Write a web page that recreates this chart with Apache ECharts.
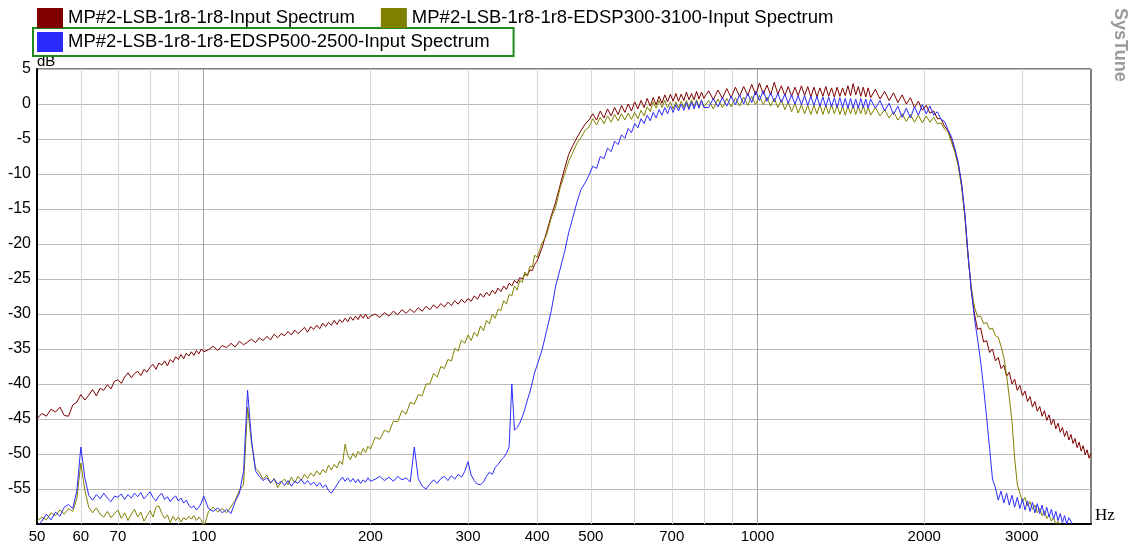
<!DOCTYPE html>
<html>
<head>
<meta charset="utf-8">
<script src="https://cdn.jsdelivr.net/npm/echarts@6/dist/echarts.min.js"></script>
<style>
  html, body { margin: 0; padding: 0; background: #fff; }
  #chart { width: 1133px; height: 546px; }
</style>
</head>
<body>
<div id="chart"></div>
<script>
// series names as shown in the legend
const names = [
  'MP#2-LSB-1r8-1r8-Input Spectrum',
  'MP#2-LSB-1r8-1r8-EDSP300-3100-Input Spectrum',
  'MP#2-LSB-1r8-1r8-EDSP500-2500-Input Spectrum'
];

// frequency points (Hz)
const freqs = [
  50,51,52,53,54,55,56,57,58,59,60,61,62,63,64,65,66,67,68,69,70,71,72,73,74,75,76,77,78,79,
  80,81,82,83,84,85,86,87,88,89,90,91,92,93,94,95,96,97,98,99,100,
  102,104,106,108,110,112,114,116,118,120,122,124,126,128,130,132,134,136,138,140,
  142,144,146,148,150,152,154,156,158,160,162,164,166,168,170,172,174,176,178,180,
  182,184,186,188,190,192,194,196,198,200,
  204,208,212,216,220,224,228,232,236,240,244,248,252,256,260,264,268,272,276,280,
  284,288,292,296,300,304,308,312,316,320,324,328,332,336,340,344,348,352,356,360,
  364,368,372,376,380,384,388,392,396,400,
  408,416,424,432,440,448,456,464,472,480,488,496,504,512,520,528,536,544,552,560,
  568,576,584,592,600,608,616,624,632,640,648,656,664,672,680,688,696,704,712,720,
  728,736,744,752,760,768,776,784,792,800,
  816,832,848,864,880,896,912,928,944,960,976,992,1008,1024,1040,1056,1072,1088,1104,1120,
  1136,1152,1168,1184,1200,1216,1232,1248,1264,1280,1296,1312,1328,1344,1360,1376,1392,1408,1424,1440,
  1456,1472,1488,1504,1520,1536,1552,1568,1584,1600,
  1632,1664,1696,1728,1760,1792,1824,1856,1888,1920,1952,1984,2016,2048,2080,2112,2144,2176,2208,2240,
  2272,2304,2336,2368,2400,2432,2464,2496,2528,2560,2592,2624,2656,2688,2720,2752,2784,2816,2848,2880,
  2912,2944,2976,3008,3040,3072,3104,3136,3168,3200,
  3232,3264,3296,3328,3360,3392,3424,3456,3488,3520,3552,3584,3616,3648,3680,3712,3744,3776,3808,3840,
  3872,3904,3936,3968,4000
];

// dB values, one per frequency point
const red = [
  -45.0,-44.2,-44.6,-43.6,-44.0,-43.3,-44.5,-44.6,-43.0,-42.6,-41.5,-42.3,-41.6,-40.8,-41.7,-40.6,-40.9,-40.1,-40.7,-39.6,
  -39.4,-39.9,-39.0,-38.4,-39.1,-38.5,-38.2,-38.8,-37.9,-38.3,-37.6,-37.2,-37.9,-37.0,-37.3,-36.7,-37.4,-36.5,-36.9,-36.1,
  -36.5,-35.8,-36.4,-35.6,-36.0,-35.4,-35.9,-35.2,-35.7,-35.0,-35.4,
  -35.1,-34.6,-35.2,-34.5,-34.8,-34.2,-34.7,-33.9,-34.4,-34.0,-33.6,-34.1,-33.4,-33.8,-33.2,-33.7,-32.9,-33.4,-32.8,-33.1,
  -32.5,-33.0,-32.3,-32.8,-32.4,-31.9,-32.6,-31.8,-32.2,-31.6,-32.1,-31.3,-31.8,-31.2,-31.6,-30.9,-31.5,-30.8,-31.2,-30.6,
  -31.1,-30.4,-30.9,-30.3,-30.8,-30.1,-30.6,-30.0,-30.7,-30.3,
  -30.0,-30.5,-29.8,-30.3,-29.6,-30.1,-29.4,-29.9,-29.3,-29.8,-29.1,-29.6,-28.9,-29.4,-28.7,-29.2,-28.5,-29.0,-28.3,-28.8,
  -28.1,-28.6,-27.9,-28.4,-27.8,-28.2,-27.4,-27.9,-27.1,-27.6,-26.9,-27.4,-26.6,-27.1,-26.3,-26.8,-26.0,-26.5,-25.6,-26.0,
  -25.2,-25.6,-24.8,-25.0,-24.3,-24.5,-23.7,-23.8,-22.9,-22.4,
  -20.6,-18.3,-16.0,-14.0,-11.6,-9.3,-7.2,-5.9,-4.8,-3.8,-2.9,-2.3,-1.4,-2.3,-1.0,-2.0,-0.7,-1.7,-0.5,-1.5,
  -0.2,-1.2,0.0,-1.0,0.3,-0.7,0.5,-0.5,0.8,-0.3,0.9,-0.1,1.1,0.1,1.3,0.3,1.4,0.4,1.5,0.4,
  1.4,0.5,1.7,0.6,1.5,0.6,1.8,0.7,1.7,0.8,
  1.9,0.6,2.0,0.8,2.2,0.9,2.4,1.1,2.5,1.2,2.8,1.3,3.0,1.4,2.7,1.3,3.1,1.4,2.6,1.2,
  2.5,1.1,2.4,1.2,2.6,1.2,2.5,1.0,2.4,1.0,2.3,1.1,2.5,1.1,2.3,1.0,2.4,1.1,2.3,1.2,
  2.6,1.2,2.9,1.3,2.5,1.1,2.4,1.0,2.3,0.9,
  2.1,0.7,1.8,0.5,1.6,0.2,1.3,0.0,0.9,-0.5,0.4,-0.9,-0.2,-1.3,-1.0,-2.1,-2.1,-3.2,-3.8,-5.2,
  -6.6,-8.6,-11.6,-15.9,-21.8,-26.7,-30.0,-32.2,-32.0,-34.0,-33.8,-35.5,-35.0,-36.7,-36.2,-37.8,-37.3,-38.9,-38.3,-40.0,
  -39.3,-40.9,-40.2,-41.7,-41.0,-42.5,-41.8,-43.3,-42.5,-43.9,
  -43.2,-44.6,-43.8,-45.2,-44.4,-45.8,-45.0,-46.4,-45.6,-46.9,-46.2,-47.5,-46.7,-48.0,-47.2,-48.5,-47.8,-49.1,-48.3,-49.6,
  -48.8,-50.1,-49.4,-50.6,-49.9
];

const olive = [
  -59.6,-59.0,-59.4,-58.4,-58.8,-58.0,-58.6,-57.8,-58.2,-56.4,-51.3,-55.2,-57.6,-58.4,-57.7,-58.6,-59.0,-58.2,-59.1,-58.5,
  -58.0,-59.2,-58.4,-59.5,-58.6,-57.9,-59.0,-58.3,-59.6,-58.8,-58.1,-59.0,-57.6,-57.4,-58.5,-59.2,-58.7,-59.8,-58.9,-59.5,
  -59.0,-59.7,-59.1,-59.4,-58.9,-59.3,-58.8,-59.5,-59.0,-59.4,-60.6,
  -58.2,-57.6,-58.3,-57.8,-58.4,-57.5,-56.6,-55.2,-54.4,-43.3,-48.5,-52.0,-52.6,-53.6,-53.0,-54.2,-53.5,-54.8,-54.0,-53.6,
  -54.4,-53.3,-54.1,-53.2,-53.8,-52.9,-53.5,-52.7,-53.2,-52.4,-53.0,-52.2,-52.7,-51.6,-52.3,-51.5,-52.0,-51.0,-51.5,-48.6,
  -50.2,-50.8,-49.9,-50.5,-49.6,-50.1,-49.2,-49.8,-48.9,-49.3,
  -47.6,-47.9,-46.6,-46.9,-45.3,-45.4,-43.8,-44.3,-42.6,-42.9,-41.5,-41.7,-40.0,-40.0,-38.5,-39.0,-37.5,-37.8,-36.5,-36.7,
  -34.9,-35.3,-33.7,-34.2,-33.0,-33.8,-32.6,-33.2,-31.7,-32.4,-30.9,-31.4,-30.0,-30.6,-29.3,-29.5,-28.1,-28.6,-27.2,-27.4,
  -26.0,-26.6,-25.2,-25.5,-24.0,-24.6,-23.2,-23.3,-21.6,-21.9,
  -19.9,-18.7,-16.3,-14.7,-12.0,-10.1,-8.2,-6.9,-5.6,-4.8,-3.8,-3.3,-2.1,-3.0,-1.9,-2.8,-1.7,-2.6,-1.5,-2.4,
  -1.4,-2.3,-1.3,-2.2,-1.2,-2.1,-0.9,-1.7,-0.4,-1.1,0.3,-0.6,0.5,-0.5,0.5,-0.5,0.3,-0.7,0.3,-0.6,
  0.4,-0.5,0.5,-0.5,0.6,-0.4,0.6,-0.4,0.6,-0.4,
  0.5,-0.7,0.7,-0.5,0.8,-0.4,0.9,-0.3,1.0,-0.2,1.1,-0.1,1.2,-0.1,1.0,-0.3,0.8,-0.5,0.6,-0.8,
  0.3,-1.1,0.1,-1.3,-0.1,-1.4,-0.2,-1.5,-0.2,-1.4,-0.1,-1.5,-0.2,-1.4,-0.1,-1.4,-0.2,-1.5,-0.3,-1.6,
  -0.3,-1.4,-0.2,-1.5,-0.3,-1.4,-0.2,-1.5,-0.4,-1.6,
  -0.5,-1.7,-0.8,-2.0,-1.1,-2.3,-1.4,-2.5,-1.5,-2.6,-1.6,-2.7,-1.7,-2.6,-1.9,-2.8,-2.7,-3.6,-4.0,-5.5,
  -6.9,-8.9,-11.9,-16.2,-22.0,-26.2,-29.0,-30.4,-30.3,-31.4,-31.2,-32.2,-32.0,-33.1,-33.3,-34.6,-36.2,-38.8,-41.9,-45.4,
  -50.6,-54.3,-55.6,-56.8,-56.2,-57.4,-56.8,-57.9,-57.3,-58.4,
  -57.8,-58.8,-58.2,-59.2,-58.7,-59.6,-59.1,-60.0,-59.6,-60.5,null,null,null,null,null,null,null,null,null,null,
  null,null,null,null,null
];

const blue = [
  -60.4,-59.6,-58.6,-59.4,-58.3,-58.9,-57.6,-57.2,-57.8,-55.3,-49.0,-53.4,-55.9,-56.6,-55.8,-56.4,-55.6,-56.3,-56.8,-56.0,
  -56.2,-55.7,-56.5,-55.8,-56.3,-55.6,-56.1,-55.5,-56.4,-55.9,-55.4,-56.2,-56.7,-56.0,-55.6,-56.5,-56.1,-56.8,-56.3,-56.0,
  -56.7,-56.3,-57.0,-56.6,-57.3,-57.7,-57.4,-58.0,-57.6,-57.0,-56.0,
  -57.8,-58.2,-57.7,-58.4,-57.9,-58.5,-56.8,-55.6,-52.5,-40.9,-48.0,-52.4,-53.2,-53.8,-53.4,-54.1,-53.6,-54.3,-53.9,-54.5,
  -53.8,-54.6,-53.9,-54.2,-53.6,-54.3,-53.8,-54.4,-54.0,-54.6,-54.1,-54.8,-54.4,-55.2,-55.6,-55.0,-54.4,-53.8,-53.3,-53.9,
  -53.4,-54.0,-53.5,-54.1,-53.6,-54.2,-53.7,-54.0,-53.4,-53.9,
  -53.6,-53.2,-53.8,-53.3,-53.9,-53.2,-53.7,-53.4,-54.0,-49.0,-53.5,-54.6,-55.0,-54.3,-53.7,-54.2,-53.5,-53.2,-53.8,-53.1,
  -53.6,-52.9,-53.3,-52.5,-51.1,-53.0,-53.8,-54.3,-54.4,-54.0,-53.2,-52.6,-52.9,-51.9,-51.5,-50.9,-50.5,-49.9,-49.0,-40.0,
  -46.6,-46.2,-45.6,-44.7,-43.6,-42.3,-41.2,-39.8,-38.3,-37.3,
  -35.2,-32.4,-29.6,-26.0,-23.6,-21.2,-18.4,-16.2,-14.0,-12.2,-11.3,-10.2,-8.9,-9.2,-7.5,-7.8,-6.3,-6.8,-5.3,-5.8,
  -4.4,-4.9,-3.5,-4.1,-2.8,-3.4,-2.1,-2.8,-1.6,-2.4,-1.2,-2.0,-0.8,-1.6,-0.5,-1.4,-0.3,-1.2,-0.1,-1.0,
  0.0,-0.9,0.2,-0.8,0.3,-0.7,0.4,-0.6,0.5,-0.5,
  -0.5,0.8,-0.4,0.9,-0.3,1.1,-0.1,1.3,0.0,1.5,0.2,1.8,0.5,1.9,0.4,1.6,0.3,1.5,0.2,1.4,
  0.1,1.3,0.0,1.2,-0.1,1.2,-0.2,1.1,-0.2,1.1,-0.3,1.0,-0.4,1.0,-0.4,0.9,-0.5,0.9,-0.5,0.8,
  -0.6,0.8,-0.6,0.7,-0.6,0.8,-0.5,0.7,-0.6,0.7,
  -0.6,0.5,-1.0,0.1,-1.5,-0.3,-1.9,-0.6,-2.0,-0.4,-1.6,-0.1,-1.4,-0.3,-1.6,-1.1,-2.2,-2.5,-3.7,-4.7,
  -6.4,-8.4,-11.4,-15.7,-21.6,-26.6,-30.6,-33.6,-36.8,-40.6,-44.8,-49.2,-53.6,-54.8,-56.6,-55.3,-57.0,-55.6,-57.3,-55.9,
  -57.6,-56.2,-57.8,-56.4,-58.0,-56.7,-58.2,-56.9,-58.4,-57.1,
  -58.5,-57.3,-58.8,-57.6,-59.0,-57.9,-59.3,-58.2,-59.5,-58.5,-59.8,-58.8,-60.0,-59.1,-59.6,-60.6,null,null,null,null,
  null,null,null,null,null
];

// vertical grid lines and x tick labels
const xGridLines = [60, 70, 80, 90, 100, 200, 300, 400, 500, 600, 700, 800, 900, 1000, 2000, 3000];
const xDarkLines = [100, 1000];
const xLabels = [50, 60, 70, 100, 200, 300, 400, 500, 700, 1000, 2000, 3000];

const font = '"Liberation Sans", Arial, sans-serif';

const chart = echarts.init(document.getElementById('chart'));

const toPairs = values => freqs.map((f, i) => [f, values[i]]).filter(p => p[1] != null);

const spectrum = (name, color, values) => ({
  name: name,
  type: 'line',
  data: toPairs(values),
  showSymbol: false,
  symbol: 'none',
  lineStyle: { color: color, width: 1 },
  itemStyle: { color: color },
  silent: true,
  z: 3
});

const gridMarks = [50].concat(xGridLines).map(v => ({
  xAxis: v,
  lineStyle: {
    color: v === 50 ? 'rgba(0,0,0,0)' : (xDarkLines.includes(v) ? '#a4a4a4' : '#d6d6d6'),
    width: 1,
    type: 'solid'
  },
  label: { show: xLabels.includes(v) }
}));

const legendBase = {
  orient: 'horizontal',
  icon: 'rect',
  itemWidth: 26,
  itemHeight: 20,
  selectedMode: false,
  textStyle: { fontSize: 18.5, color: '#000', fontFamily: font }
};

const option = {
  animation: false,
  backgroundColor: '#fff',
  legend: [
    Object.assign({}, legendBase, { data: [names[0], names[1]], left: 37, top: 8, padding: 0, itemGap: 26 }),
    Object.assign({}, legendBase, {
      data: [names[2]], left: 33, top: 28, padding: [4, 24, 4, 4],
      borderColor: '#1f8a1f', borderWidth: 2
    })
  ],
  grid: {
    left: 37, right: 42, top: 69, bottom: 22,
    show: true, borderColor: '#000', borderWidth: 1
  },
  xAxis: {
    type: 'log',
    logBase: 10,
    min: 50,
    max: 4000,
    name: 'Hz',
    nameLocation: 'end',
    nameGap: 4,
    nameTextStyle: { fontFamily: '"Liberation Serif", serif', fontSize: 17, color: '#000', verticalAlign: 'bottom', align: 'left' },
    axisLine: { show: true, onZero: false, lineStyle: { color: '#000', width: 2 } },
    axisTick: { show: false },
    axisLabel: { show: false },
    splitLine: { show: false }
  },
  yAxis: {
    type: 'value',
    min: -60,
    max: 5,
    interval: 5,
    name: 'dB',
    nameLocation: 'end',
    nameGap: 0,
    nameTextStyle: { fontFamily: font, fontSize: 15, color: '#000', align: 'left', verticalAlign: 'bottom' },
    axisLine: { show: true, onZero: false, lineStyle: { color: '#000', width: 2 } },
    axisTick: { show: false },
    axisLabel: {
      fontFamily: font, fontSize: 16, color: '#000', margin: 6,
      formatter: v => (v === -60 ? '' : String(v))
    },
    splitLine: { lineStyle: { color: '#b8b8b8', width: 1 } }
  },
  graphic: [{
    type: 'text',
    x: 1129,
    y: 8,
    rotation: -Math.PI / 2,
    style: { text: 'SysTune', fill: '#9a9a9a', font: 'bold 18px "Liberation Sans", Arial, sans-serif', textVerticalAlign: 'top', verticalAlign: 'top' }
  }],
  series: [
    {
      name: 'grid',
      type: 'line',
      data: [],
      silent: true,
      z: 1,
      markLine: {
        silent: true,
        symbol: 'none',
        animation: false,
        z: 1,
        label: {
          position: 'start',
          distance: 5,
          fontFamily: font,
          fontSize: 15,
          color: '#000',
          formatter: p => String(p.value)
        },
        data: gridMarks
      }
    },
    spectrum(names[0], '#800000', red),
    spectrum(names[1], '#808000', olive),
    spectrum(names[2], '#2b2bff', blue)
  ]
};

chart.setOption(option);
</script>
</body>
</html>
